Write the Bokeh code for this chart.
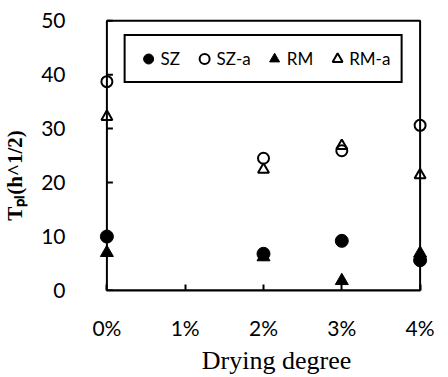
from bokeh.plotting import figure
from bokeh.models import Range1d, FixedTicker, BoxAnnotation
from bokeh.embed import file_html
from bokeh.resources import INLINE

# ---- data ----
x_ticks = [0, 1, 2, 3, 4]
x_tick_labels = ["0%", "1%", "2%", "3%", "4%"]
drying = [0, 2, 3, 4]
sz = [10.0, 6.8, 9.2, 5.6]
sz_a = [38.7, 24.5, 25.9, 30.6]
rm = [7.0, 6.2, 1.8, 6.9]
rm_a = [32.2, 22.4, 26.8, 21.4]
y_ticks = [0, 10, 20, 30, 40, 50]

TICK_FONT = "Lato"
SERIF = "Liberation Serif"
NBSP = "\u00a0"

p = figure(width=448, height=377, output_backend="svg", toolbar_location=None,
           x_range=Range1d(-0.12, 4.12), y_range=Range1d(0, 50.4),
           min_border_left=97, min_border_right=19, min_border_top=18, min_border_bottom=84)
p.background_fill_color = "white"
p.border_fill_color = "white"
p.outline_line_color = None
p.grid.visible = False

# plot box (left edge = y axis line, top and right border lines)
frame_box = BoxAnnotation(left=x_ticks[0], right=x_ticks[-1], bottom=y_ticks[0], top=y_ticks[-1],
                          fill_alpha=0, line_color="black", line_alpha=1, line_width=2,
                          level="underlay")
p.add_layout(frame_box)

# inward y ticks on the y axis line at 0%
p.ray(x=[x_ticks[0]] * len(y_ticks), y=y_ticks, length=6, length_units="screen", angle=0,
      line_color="black", line_width=2)

p.scatter(drying, sz, marker="circle", size=13, fill_color="black", line_color="black",
          legend_label="SZ")
p.scatter(drying, sz_a, marker="circle", size=11, fill_color=None, line_color="black",
          line_width=2, legend_label="SZ-a")
p.scatter(drying, rm, marker="triangle", size=13, fill_color="black", line_color="black",
          legend_label="RM")
p.scatter(drying, rm_a, marker="triangle", size=11, fill_color=None, line_color="black",
          line_width=2, legend_label="RM-a")

# x axis
xa = p.xaxis[0]
xa.ticker = FixedTicker(ticks=x_ticks)
xa.major_label_overrides = {t: l for t, l in zip(x_ticks, x_tick_labels)}
xa.bounds = (x_ticks[0], x_ticks[-1])
xa.axis_line_color = "black"
xa.axis_line_width = 2
xa.major_tick_line_color = "black"
xa.major_tick_line_width = 2
xa.major_tick_in = 6
xa.major_tick_out = 0
xa.minor_tick_line_color = None
xa.major_label_text_font = TICK_FONT
xa.major_label_text_font_size = "21px"
xa.major_label_text_color = "black"
xa.major_label_standoff = 24
xa.axis_label = NBSP * 4 + "Drying degree"
xa.axis_label_text_font = SERIF
xa.axis_label_text_font_size = "26px"
xa.axis_label_text_font_style = "normal"
xa.axis_label_text_color = "black"
xa.axis_label_standoff = 3

# y axis (labels only; line and ticks drawn at 0%)
ya = p.yaxis[0]
ya.ticker = FixedTicker(ticks=y_ticks)
ya.axis_line_color = None
ya.major_tick_line_color = None
ya.minor_tick_line_color = None
ya.major_tick_in = 0
ya.major_tick_out = 0
ya.major_label_text_font = TICK_FONT
ya.major_label_text_font_size = "21px"
ya.major_label_text_color = "black"
ya.major_label_standoff = 32
ya.axis_label = "T\u209a\u2097(h^1/2)" + NBSP * 8
ya.axis_label_text_font = SERIF
ya.axis_label_text_font_size = "21px"
ya.axis_label_text_font_style = "bold"
ya.axis_label_text_color = "black"
ya.axis_label_standoff = 11

leg = p.legend[0]
leg.orientation = "horizontal"
leg.location = "top_center"
leg.margin = 16
leg.padding = 10
leg.spacing = 11
leg.glyph_width = 25
leg.glyph_height = 25
leg.label_standoff = 0
leg.label_text_font = TICK_FONT
leg.label_text_font_size = "17px"
leg.label_text_color = "black"
leg.border_line_color = "black"
leg.border_line_alpha = 1
leg.border_line_width = 2
leg.background_fill_color = "white"
leg.background_fill_alpha = 1

open("out.html", "w").write(file_html(p, INLINE))
